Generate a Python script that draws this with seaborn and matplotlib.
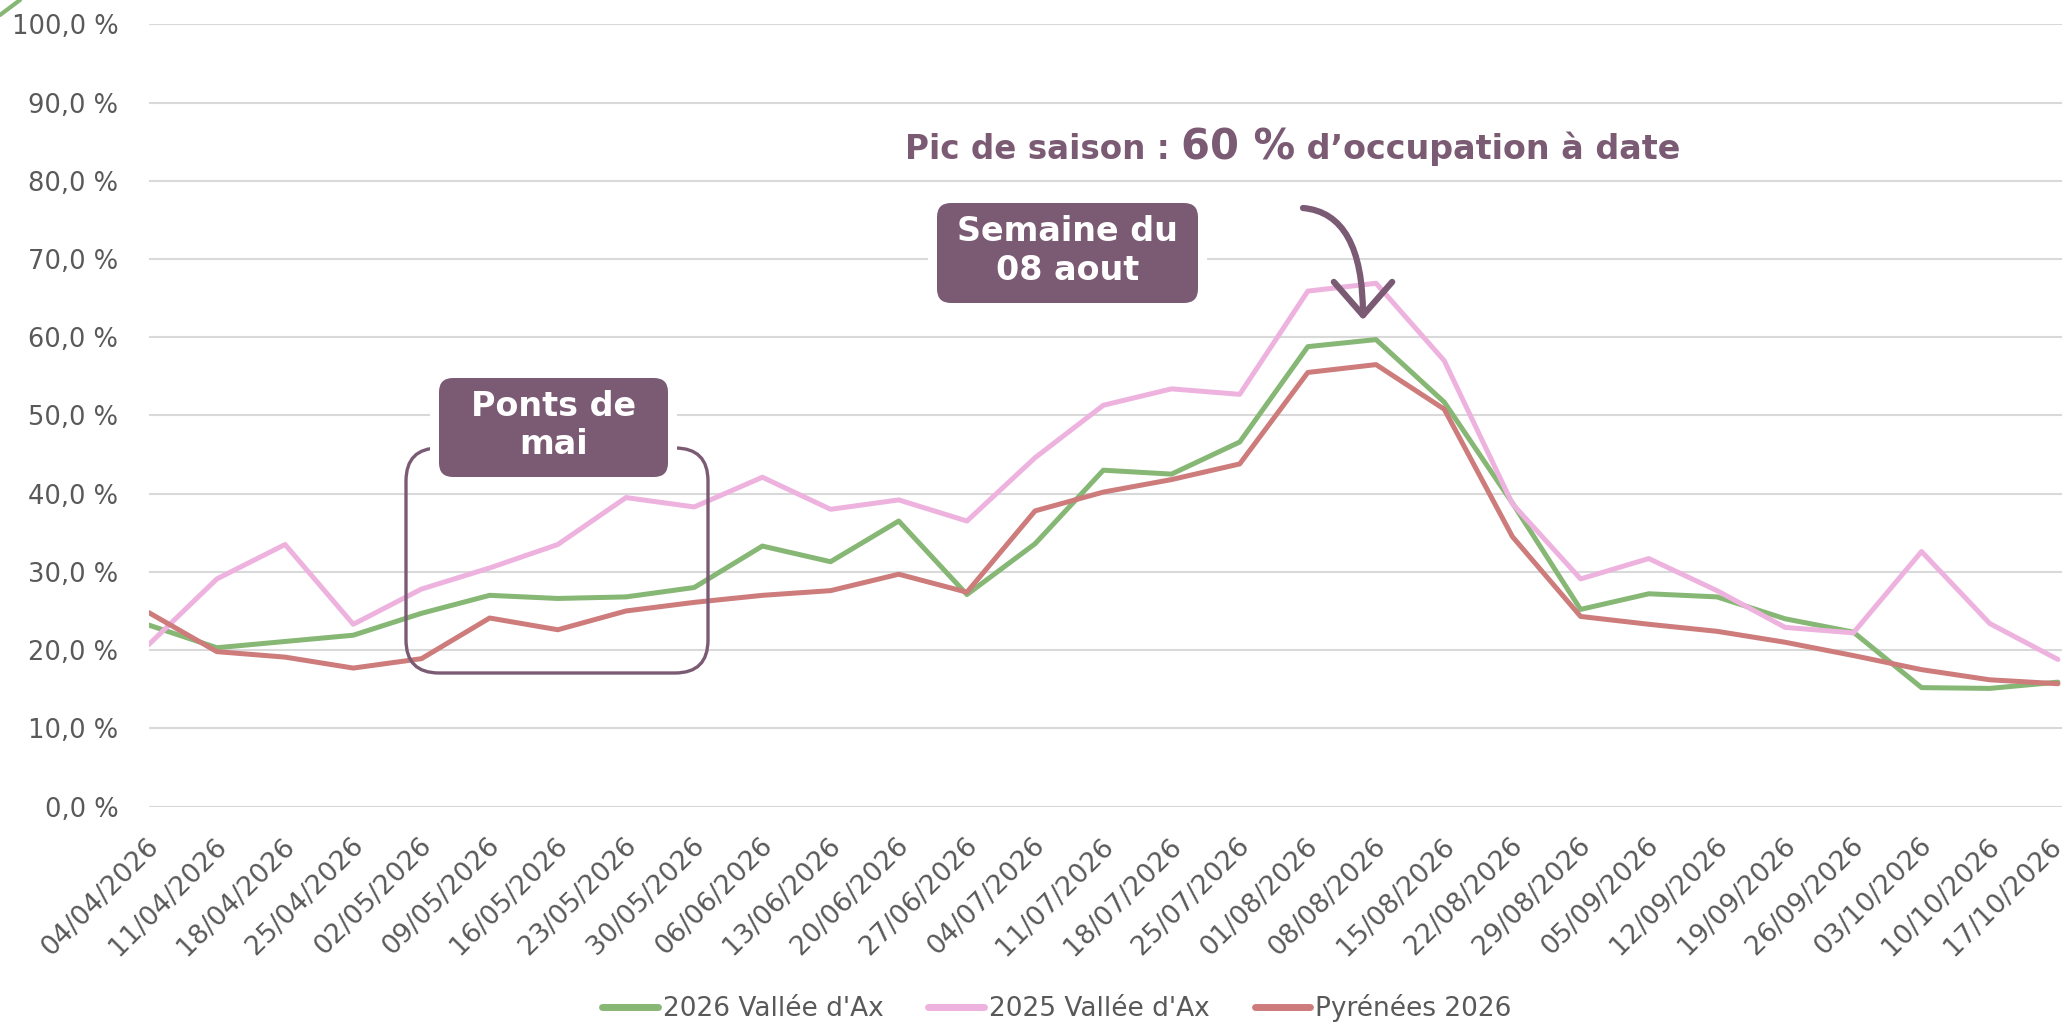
import numpy as np
import pandas as pd
import matplotlib
matplotlib.use("Agg")
import matplotlib.pyplot as plt
import matplotlib.transforms as mtrans
from matplotlib.patches import FancyBboxPatch
from matplotlib.lines import Line2D
import seaborn as sns

# --------------------------
# DATA
# --------------------------
dates = ["04/04/2026", "11/04/2026", "18/04/2026", "25/04/2026", "02/05/2026",
         "09/05/2026", "16/05/2026", "23/05/2026", "30/05/2026", "06/06/2026",
         "13/06/2026", "20/06/2026", "27/06/2026", "04/07/2026", "11/07/2026",
         "18/07/2026", "25/07/2026", "01/08/2026", "08/08/2026", "15/08/2026",
         "22/08/2026", "29/08/2026", "05/09/2026", "12/09/2026", "19/09/2026",
         "26/09/2026", "03/10/2026", "10/10/2026", "17/10/2026"]

vallee_2026 = [23.2, 20.3, 21.1, 21.9, 24.7, 27.0, 26.6, 26.8, 28.0, 33.3,
               31.3, 36.5, 27.1, 33.6, 43.0, 42.5, 46.6, 58.8, 59.7, 51.7,
               38.8, 25.2, 27.2, 26.8, 24.0, 22.3, 15.2, 15.1, 15.9]
vallee_2025 = [20.7, 29.1, 33.5, 23.3, 27.8, 30.5, 33.5, 39.5, 38.3, 42.1,
               38.0, 39.2, 36.5, 44.6, 51.3, 53.4, 52.7, 65.9, 66.9, 57.0,
               38.7, 29.1, 31.7, 27.6, 22.9, 22.2, 32.6, 23.4, 18.8]
pyrenees_2026 = [24.8, 19.8, 19.1, 17.7, 18.9, 24.1, 22.6, 25.0, 26.1, 27.0,
                 27.6, 29.7, 27.4, 37.8, 40.2, 41.8, 43.8, 55.5, 56.5, 50.8,
                 34.5, 24.3, 23.3, 22.4, 21.0, 19.3, 17.5, 16.2, 15.7]

series_names = ["2026 Vallée d'Ax", "2025 Vallée d'Ax", "Pyrénées 2026"]
yticks = [0, 10, 20, 30, 40, 50, 60, 70, 80, 90, 100]

colors = ["#86B774", "#EEB2DF", "#CD7B7B"]
purple = "#7B5A73"
grey = "#595959"

# long table for seaborn
df = pd.DataFrame({
    "idx": list(range(len(dates))) * 3,
    "value": vallee_2026 + vallee_2025 + pyrenees_2026,
    "serie": [series_names[0]] * len(dates) + [series_names[1]] * len(dates)
             + [series_names[2]] * len(dates),
})

# --------------------------
# FIGURE
# --------------------------
sns.set_theme(style="white")
plt.rcParams["font.family"] = ["DejaVu Sans"]

W, H = 2066, 1026
fig = plt.figure(figsize=(W / 100, H / 100), dpi=100)
ax = fig.add_axes([148.7 / W, (H - 806.5) / H, (2062 - 148.7) / W, (806.5 - 24.4) / H])

sns.lineplot(data=df, x="idx", y="value", hue="serie", hue_order=series_names,
             palette=colors, linewidth=3.6, ax=ax, legend=False, sort=False)

ax.set_xlim(0, 28.06)
ax.set_ylim(0, 100)
ax.set_yticks(yticks)
ax.set_yticklabels([f"{v:.1f} %".replace(".", ",") for v in yticks])
ax.set_xticks(range(len(dates)))
ax.set_xticklabels(dates, rotation=45, ha="right", va="top", rotation_mode="anchor")
ax.grid(axis="y", color="#D9D9D9", linewidth=1.5)
ax.set_axisbelow(True)
for s in ax.spines.values():
    s.set_visible(False)
ax.tick_params(axis="y", length=0, pad=22, labelsize=18.5, labelcolor=grey)
ax.tick_params(axis="x", length=0, pad=19, labelsize=19.3, labelcolor=grey)
ax.set_xlabel("")
ax.set_ylabel("")
offset = mtrans.ScaledTranslation(-3 / 100, 0, fig.dpi_scale_trans)
last_offset = mtrans.ScaledTranslation(-9 / 100, 0, fig.dpi_scale_trans)
xlabs = ax.get_xticklabels()
for i, lab in enumerate(xlabs):
    lab.set_transform(lab.get_transform() + (last_offset if i == len(xlabs) - 1 else offset))

# legend
handles = [Line2D([], [], color=c, linewidth=5) for c in colors]
fig.legend(handles, series_names, loc="center", bbox_to_anchor=(0.5116, 0.0175),
           ncol=3, frameon=False, fontsize=19, labelcolor=grey,
           handlelength=2.1, handletextpad=0.2, columnspacing=1.7)

# --------------------------
# ANNOTATIONS (figure pixel coords, y from top)
# --------------------------
ident = mtrans.IdentityTransform()


def label_box(x0, y0, x1, y1, text):
    # white halo then purple rounded box
    m = 9
    fig.add_artist(FancyBboxPatch((x0 - m, H - y1 - m), x1 - x0 + 2 * m, y1 - y0 + 2 * m,
                                  boxstyle="round,pad=0,rounding_size=20",
                                  facecolor="white", edgecolor="none",
                                  transform=ident, zorder=3))
    fig.add_artist(FancyBboxPatch((x0, H - y1), x1 - x0, y1 - y0,
                                  boxstyle="round,pad=0,rounding_size=14",
                                  facecolor=purple, edgecolor="none",
                                  transform=ident, zorder=4))
    fig.text((x0 + x1) / 2 / W, 1 - (y0 + y1 - 4) / 2 / H, text, ha="center", va="center",
             color="white", fontsize=24, fontweight="bold", linespacing=1.22, zorder=5)


# bracket around "Ponts de mai"
fig.add_artist(FancyBboxPatch((406, H - 673), 708 - 406, 673 - 448,
                              boxstyle="round,pad=0,rounding_size=33",
                              facecolor="none", edgecolor=purple, linewidth=2.4,
                              transform=ident, zorder=2))
label_box(439, 378, 668, 477, "Ponts de\nmai")
label_box(937, 203, 1198, 303, "Semaine du\n08 aout")

# curved arrow
ax.annotate("", xy=(1363, H - 320), xytext=(1303, H - 208),
            xycoords="figure pixels", textcoords="figure pixels",
            arrowprops=dict(arrowstyle="->,head_length=1.2,head_width=1.05",
                            connectionstyle="angle3,angleA=-5,angleB=90",
                            color=purple, lw=4.5, mutation_scale=20,
                            shrinkA=0, shrinkB=0), annotation_clip=False)

# headline in three pieces
fig.canvas.draw()
renderer = fig.canvas.get_renderer()
x_cur = 905
base_y = 1 - 159 / H
for txt, size in [("Pic de saison : ", 23.5), ("60 %", 30), (" d\u2019occupation à date", 24)]:
    t = fig.text(x_cur / W, base_y, txt, ha="left", va="baseline", color=purple,
                 fontsize=size, fontweight="bold")
    x_cur = t.get_window_extent(renderer).x1

# decoration top-left corner
fig.add_artist(Line2D([0, 20 / W], [1 - 15 / H, 1], color="#86B774", linewidth=3,
                      transform=fig.transFigure))

plt.savefig("out.png", dpi=100)
